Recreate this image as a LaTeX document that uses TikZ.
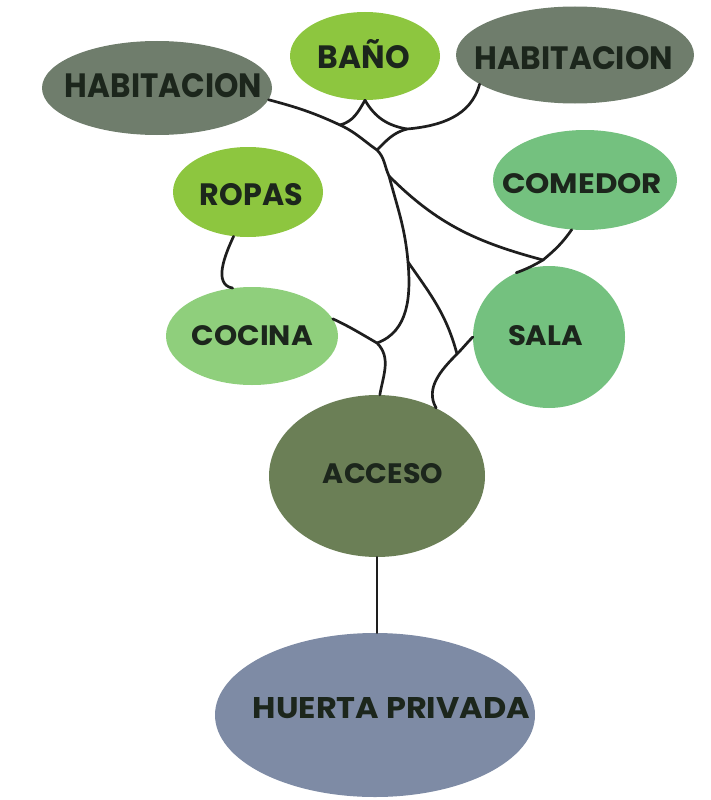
\documentclass[tikz,border=0pt]{standalone}
\usepackage{fontspec}
\newfontfamily\lblfont{Poppins}
\usetikzlibrary{shapes.geometric}
\definecolor{habc}{HTML}{6F7D6C}
\definecolor{lgreen}{HTML}{8DC63F}
\definecolor{mgreen}{HTML}{74C17F}
\definecolor{cocc}{HTML}{8FCF7C}
\definecolor{accc}{HTML}{6B7F56}
\definecolor{huec}{HTML}{7E8BA5}
\definecolor{labelc}{HTML}{1C261C}
\definecolor{linec}{HTML}{1E1E1E}
\tikzset{
  room/.style={ellipse, draw=none, inner sep=0pt},
  lbl/.style={inner sep=0pt, anchor=base, text=labelc},
  link/.style={draw=linec, line width=2.7pt, line cap=round},
}
\newcommand\lab[3]{\resizebox{#1pt}{#2pt}{\lblfont\bfseries #3}}
\begin{document}
\begin{tikzpicture}[x=1pt,y=1pt]
\path[use as bounding box] (0,0) rectangle (711,-800);
% rooms
\node[room, fill=habc, minimum width=230pt, minimum height=94pt] (hab1) at (157,-88) {};
\node[room, fill=lgreen, minimum width=150pt, minimum height=88pt] (bano) at (365,-56) {};
\node[room, fill=habc, minimum width=238pt, minimum height=97pt] (hab2) at (575,-55) {};
\node[room, fill=lgreen, minimum width=150pt, minimum height=90pt] (ropas) at (248,-192) {};
\node[room, fill=mgreen, minimum width=184pt, minimum height=100pt] (com) at (585,-180) {};
\node[room, fill=cocc, minimum width=172pt, minimum height=98pt] (coc) at (252,-336) {};
\node[room, fill=mgreen, minimum width=152pt, minimum height=142pt] (sala) at (549,-337) {};
\node[room, fill=accc, minimum width=216pt, minimum height=162pt] (acc) at (377,-476) {};
\node[room, fill=huec, minimum width=320pt, minimum height=164pt] (hue) at (375,-715) {};
% labels
\node[lbl] (thab1) at (163.5,-97) {\lab{197}{24}{HABITACION}};
\node[lbl] (tbano) at (364,-68) {\lab{92}{29}{BAÑO}};
\node[lbl] (thab2) at (574,-70) {\lab{198}{23}{HABITACION}};
\node[lbl] (tropas) at (251.5,-205) {\lab{103}{22}{ROPAS}};
\node[lbl] (tcom) at (582,-193) {\lab{160}{20}{COMEDOR}};
\node[lbl] (tcoc) at (252.5,-345) {\lab{121}{20}{COCINA}};
\node[lbl] (tsala) at (545.5,-345) {\lab{75}{20}{SALA}};
\node[lbl] (tacc) at (383,-483) {\lab{120}{20}{ACCESO}};
\node[lbl] (thue) at (391.5,-718) {\lab{277}{21}{HUERTA PRIVADA}};
% junctions
\coordinate (jA) at (340,-125);
\coordinate (jB) at (407,-129);
\coordinate (jC) at (377,-150);
\coordinate (jD) at (389,-176);
\coordinate (jE) at (408,-262);
\coordinate (jF) at (377,-343);
\coordinate (jG) at (457,-354);
\coordinate (jH) at (543,-260);
% connectors
\draw[link] (hab1.-6) to[out=-15,in=155] (jA) to[out=-25,in=145] (jC) to[out=-45,in=115] (jD);
\draw[link] (bano.south) to[out=-120,in=15] (jA);
\draw[link] (bano.south) to[out=-60,in=170] (jB);
\draw[link] (hab2.-163) to[out=-105,in=5] (jB) to[out=-165,in=45] (jC);
\draw[link] (jD) to[out=-75,in=95] (jE) to[out=-85,in=20] (jF);
\draw[link] (jD) to[out=-45,in=165] (jH);
\draw[link] (com.-105) to[out=-125,in=40] (jH) to[out=-150,in=20] (sala.117);
\draw[link] (jE) to[out=-55,in=105] (jG);
\draw[link] (sala.180) to[out=-135,in=45] (jG) to[out=-135,in=120] (acc.49);
\draw[link] (coc.12) to[out=-25,in=150] (jF) to[out=-45,in=80] (acc.88);
\draw[link] (ropas.-108) to[out=-115,in=170] (coc.112);
\draw[link] (acc.south) -- (acc.south |- hue.north);
\end{tikzpicture}
\end{document}
